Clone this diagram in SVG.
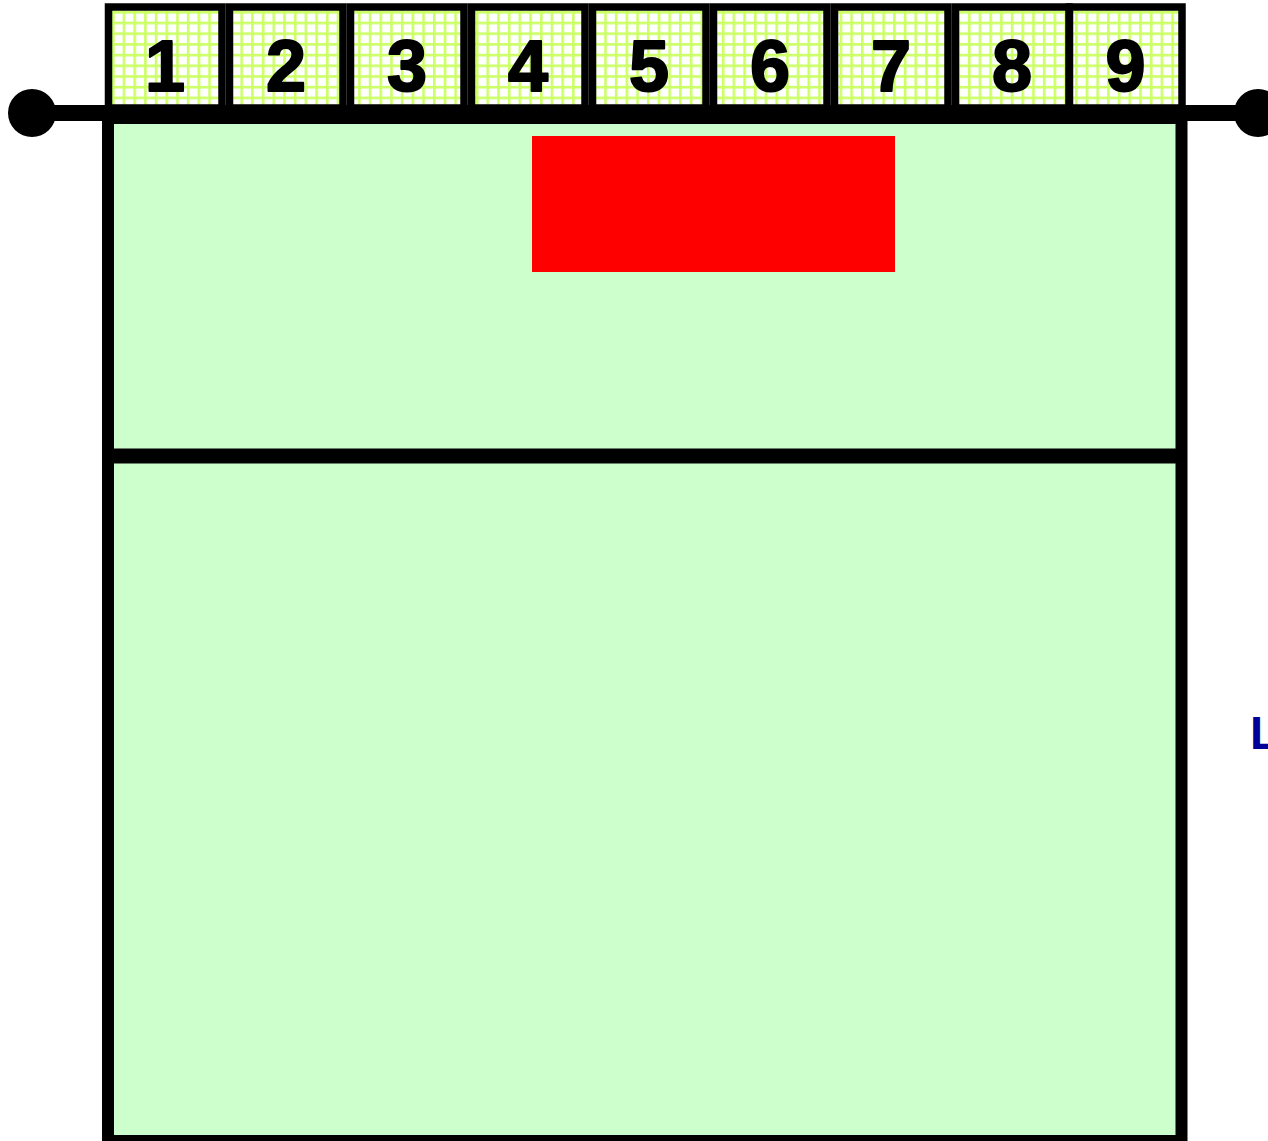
<svg xmlns="http://www.w3.org/2000/svg" width="1268" height="1141" viewBox="0 0 1268 1141">
  <defs>
    <pattern id="grid" x="112" y="11" width="10.7" height="10.7" patternUnits="userSpaceOnUse">
      <rect width="10.7" height="10.7" fill="#ffffff"/>
      <rect width="2.6" height="10.7" fill="#ccff66"/>
      <rect width="10.7" height="2.6" fill="#ccff66"/>
    </pattern>
    <style>
      .cell { fill: url(#grid); stroke: #000000; stroke-width: 7.5; }
      .num { font-family: "Liberation Sans", Arial, sans-serif; font-weight: bold; font-size: 72px; fill: #000000; stroke: #000000; stroke-width: 2; stroke-linejoin: round; text-anchor: middle; }
      .frame { fill: #ccffcc; stroke: #000000; stroke-width: 12; }
    </style>
  </defs>
  <rect width="1268" height="1141" fill="#ffffff"/>

  <g id="main-box">
    <rect class="frame" x="108" y="118" width="1073.5" height="1023"/>
  </g>
  <g id="red-block">
    <rect x="532" y="136" width="363" height="136" fill="#ff0000"/>
  </g>
  <g id="divider">
    <line x1="108" y1="456" x2="1181.5" y2="456" stroke="#000000" stroke-width="15"/>
  </g>

  <g id="cell-1"><rect class="cell" x="108.5" y="7" width="113.5" height="101"/><text class="num" x="165" y="91">1</text></g>
  <g id="cell-2"><rect class="cell" x="229.5" y="7" width="113.5" height="101"/><text class="num" x="286" y="91">2</text></g>
  <g id="cell-3"><rect class="cell" x="350.5" y="7" width="113.5" height="101"/><text class="num" x="407" y="91">3</text></g>
  <g id="cell-4"><rect class="cell" x="471.5" y="7" width="113.5" height="101"/><text class="num" x="528" y="91">4</text></g>
  <g id="cell-5"><rect class="cell" x="592.5" y="7" width="113.5" height="101"/><text class="num" x="649" y="91">5</text></g>
  <g id="cell-6"><rect class="cell" x="713.5" y="7" width="113.5" height="101"/><text class="num" x="770" y="91">6</text></g>
  <g id="cell-7"><rect class="cell" x="834.5" y="7" width="113.5" height="101"/><text class="num" x="891" y="91">7</text></g>
  <g id="cell-8"><rect class="cell" x="955.5" y="7" width="113.5" height="101"/><text class="num" x="1012" y="91">8</text></g>
  <g id="cell-9"><rect class="cell" x="1069.5" y="7" width="112.5" height="101"/><text class="num" x="1125.5" y="91">9</text></g>

  <g id="connectors">
    <line x1="32" y1="113" x2="1258" y2="113" stroke="#000000" stroke-width="16"/>
    <circle cx="32" cy="113" r="24" fill="#000000"/>
    <circle cx="1258" cy="113" r="24" fill="#000000"/>
  </g>

  <g id="label">
    <text x="1250" y="749" font-family="Liberation Sans, Arial, sans-serif" font-weight="bold" font-size="47" fill="#000099">L</text>
  </g>
</svg>
